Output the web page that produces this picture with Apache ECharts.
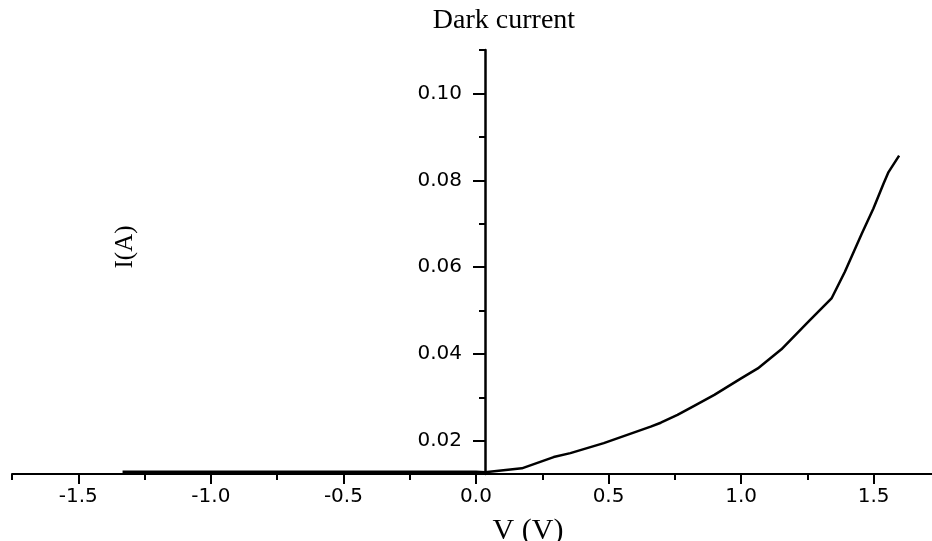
<!DOCTYPE html>
<html><head><meta charset="utf-8">
<script src="https://cdn.jsdelivr.net/npm/echarts@6/dist/echarts.min.js"></script>
<style>html,body{margin:0;padding:0;background:#fff}#c{width:932px;height:541px}</style>
</head><body><div id="c"></div>
<script>
const voltage = [-1.333, -1.0, -0.5, 0.0, 0.034, 0.173, 0.293, 0.356, 0.482, 0.659, 0.697, 0.760, 0.823, 0.899, 1.0, 1.063, 1.152, 1.253, 1.341, 1.391, 1.455, 1.499, 1.537, 1.556, 1.596];
const current = [0.0129, 0.0129, 0.0129, 0.0129, 0.0128, 0.0137, 0.0163, 0.0172, 0.0195, 0.0233, 0.0242, 0.0260, 0.0281, 0.0306, 0.0344, 0.0367, 0.0411, 0.0474, 0.0528, 0.0589, 0.0677, 0.0735, 0.0792, 0.0819, 0.0857];
const xMajorTicks = [-1.5, -1.0, -0.5, 0.0, 0.5, 1.0, 1.5];
const xMinorTicks = [-1.75, -1.25, -0.75, -0.25, 0.25, 0.75, 1.25];
const yMajorTicks = [0.02, 0.04, 0.06, 0.08, 0.10];
const yMinorTicks = [0.03, 0.05, 0.07, 0.09, 0.11];
const titleText = 'Dark current';
const xName = 'V (V)';
const yName = 'I(A)';

const chart = echarts.init(document.getElementById('c'), null, {renderer: 'canvas'});
const labelFont = {color: '#000', fontFamily: 'DejaVu Sans', fontSize: 20};
const xRange = {min: -1.75, max: 1.72};
const yRange = {min: 0.0124, max: 0.11};
chart.setOption({
  animation: false,
  backgroundColor: '#fff',
  title: {text: titleText, left: 499, top: 2, textAlign: 'center',
    textStyle: {fontFamily: 'Liberation Serif', fontWeight: 'normal', fontSize: 28, color: '#000'}},
  grid: {left: 12, right: 0, top: 50, bottom: 67, outerBoundsMode: 'none'},
  xAxis: [
    Object.assign({type: 'value', position: 'bottom',
      axisLine: {onZero: false, lineStyle: {color: '#000', width: 2}},
      axisTick: {customValues: xMajorTicks, length: 10, lineStyle: {color: '#000', width: 2}},
      axisLabel: Object.assign({customValues: xMajorTicks, margin: 13, formatter: v => v.toFixed(1)}, labelFont),
      splitLine: {show: false}}, xRange),
    Object.assign({type: 'value', position: 'bottom',
      axisLine: {show: false, onZero: false},
      axisTick: {customValues: xMinorTicks, length: 6, lineStyle: {color: '#000', width: 2}},
      axisLabel: {show: false}, splitLine: {show: false}}, xRange)
  ],
  yAxis: [
    Object.assign({type: 'value', position: 'left', offset: -473,
      axisLine: {show: true, onZero: false, lineStyle: {color: '#000', width: 2.5}},
      axisTick: {show: true, customValues: yMajorTicks, length: 12, lineStyle: {color: '#000', width: 2}},
      axisLabel: Object.assign({customValues: yMajorTicks, margin: 23, formatter: v => v.toFixed(2)}, labelFont),
      splitLine: {show: false}}, yRange),
    Object.assign({type: 'value', position: 'left', offset: -473,
      axisLine: {show: false, onZero: false},
      axisTick: {show: true, customValues: yMinorTicks, length: 6, lineStyle: {color: '#000', width: 2}},
      axisLabel: {show: false}, splitLine: {show: false}}, yRange)
  ],
  graphic: [
    {type: 'text', x: 528, y: 516, style: {text: xName, font: '30px "Liberation Serif"', fill: '#000', textAlign: 'center', textVerticalAlign: 'top'}},
    {type: 'text', x: 125, y: 247, rotation: Math.PI / 2, style: {text: yName, font: '25px "Liberation Serif"', fill: '#000', textAlign: 'center', textVerticalAlign: 'middle'}}
  ],
  series: [{
    type: 'line', xAxisIndex: 0, yAxisIndex: 0, showSymbol: false, symbol: 'none',
    lineStyle: {color: '#000', width: 2.5}, clip: false,
    data: voltage.map((v, i) => [v, current[i]])
  }]
});
</script></body></html>
